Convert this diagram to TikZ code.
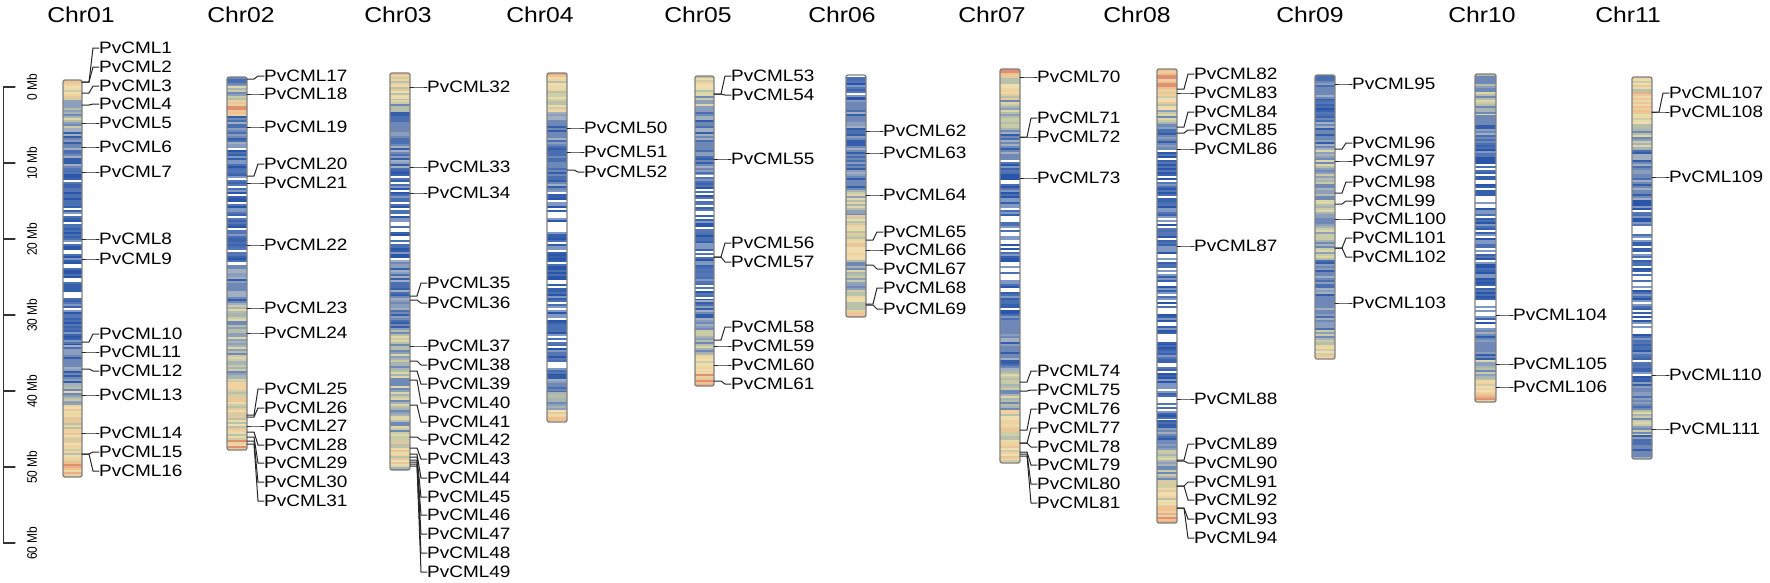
\documentclass[tikz,border=0pt]{standalone}
\usepackage{fontspec}
\setmainfont{Liberation Sans}
\newfontfamily\chrfont[FakeStretch=1.15]{Liberation Sans}
\newfontfamily\mbfont[FakeStretch=0.87]{Liberation Sans}

% Density colours: D dark blue, W blue with gaps, B blue-grey, G sage, Y yellow, R orange.
\definecolor{cD1}{HTML}{2A55A8}
\definecolor{cD2}{HTML}{4A70B4}
\definecolor{cD3}{HTML}{3B63AE}
\definecolor{cD4}{HTML}{5575B4}
\definecolor{cD5}{HTML}{7F98C4}
\definecolor{cD6}{HTML}{FFFFFF}
\definecolor{cW1}{HTML}{FFFFFF}
\definecolor{cW2}{HTML}{3560AC}
\definecolor{cW3}{HTML}{4A70B4}
\definecolor{cW4}{HTML}{FFFFFF}
\definecolor{cW5}{HTML}{7F98C4}
\definecolor{cW6}{HTML}{2A55A8}
\definecolor{cB1}{HTML}{4A6FB0}
\definecolor{cB2}{HTML}{6E88B8}
\definecolor{cB3}{HTML}{8B9DBC}
\definecolor{cB4}{HTML}{355EAA}
\definecolor{cB5}{HTML}{7088B6}
\definecolor{cB6}{HTML}{A2AFC0}
\definecolor{cG1}{HTML}{8D9FBB}
\definecolor{cG2}{HTML}{B4BEA8}
\definecolor{cG3}{HTML}{C9CAA8}
\definecolor{cG4}{HTML}{7088B6}
\definecolor{cG5}{HTML}{A8B4B4}
\definecolor{cG6}{HTML}{DCD6A8}
\definecolor{cY1}{HTML}{E9DCA8}
\definecolor{cY2}{HTML}{CFCCA8}
\definecolor{cY3}{HTML}{EFD2A0}
\definecolor{cY4}{HTML}{B8C1AA}
\definecolor{cY5}{HTML}{F0DDB0}
\definecolor{cY6}{HTML}{E6C89A}
\definecolor{cR1}{HTML}{F0C08E}
\definecolor{cR2}{HTML}{E8B088}
\definecolor{cR3}{HTML}{E9D2A0}
\definecolor{cR4}{HTML}{EBC79A}
\definecolor{cR5}{HTML}{DE9070}
\definecolor{cR6}{HTML}{EED8A8}

% Striped chromosome: left, right, top, bottom, zones.
\newcommand{\chrbar}[5]{%
    \begin{scope}
        \clip[rounded corners = 2pt] (#1,#3) rectangle (#2,#4);
        \foreach \ya/\yb/\pal in {#5} {
            \pgfmathtruncatemacro{\yc}{\ya+2}
            \foreach \y in {\ya,\yc,...,\yb} {
                \pgfmathrandominteger{\pick}{1}{6}
                \fill[fill = c\pal\pick] (#1,\y) rectangle (#2,\y+2.2);
            }
        }
    \end{scope}
    \draw[chrom] (#1,#3) rectangle (#2,#4);
}

% Gene label: bar right edge, number, gene y, label y.
\newcommand{\genetag}[4]{%
    \coordinate (g#2) at (#1,#3);
    \node[gene] (l#2) at (#1+17,#4) {PvCML#2};
    \draw[link] (g#2) -- ++(7,0) -- ([xshift=-6pt]l#2.west) -- (l#2.west);
}

\pgfmathsetseed{11}

\begin{document}
\begin{tikzpicture}[%
        x = 1pt,
        y = -1pt,
        line cap = round,
        title/.style = {anchor = base, font = \chrfont\fontsize{21.5}{24}\selectfont},
        gene/.style = {anchor = west, inner sep = 0pt, font = \chrfont\fontsize{16.5}{18}\selectfont},
        link/.style = {draw = black!85, line width = 1pt},
        chrom/.style = {draw = black!50, line width = 1.3pt, rounded corners = 2pt},
        axis/.style = {draw = black!80, line width = 1.2pt},
        mb/.style = {rotate = 90, inner sep = 0pt, font = \mbfont\fontsize{13.8}{15}\selectfont}
    ]

        \useasboundingbox (0,0) rectangle (1770,582);

        % Scale bar.
        \draw[axis] (3.5,87) -- (3.5,543);
        \foreach \i in {0,...,6} {
            \pgfmathtruncatemacro{\mbv}{10*\i}
            \draw[axis] (3.5,87+76*\i) -- (15,87+76*\i);
            \node[mb] (mb\i) at (32,87+76*\i) {\mbv{} Mb};
        }

        % Chromosome names.
        \node[title] (c1) at (81,22) {Chr01};
        \node[title] (c2) at (241,22) {Chr02};
        \node[title] (c3) at (398,22) {Chr03};
        \node[title] (c4) at (540,22) {Chr04};
        \node[title] (c5) at (698,22) {Chr05};
        \node[title] (c6) at (842,22) {Chr06};
        \node[title] (c7) at (992,22) {Chr07};
        \node[title] (c8) at (1137,22) {Chr08};
        \node[title] (c9) at (1310,22) {Chr09};
        \node[title] (c10) at (1482,22) {Chr10};
        \node[title] (c11) at (1628,22) {Chr11};

        % Chr01
        \chrbar{63}{82}{80}{477}{80/84/R, 84/100/Y, 100/128/G, 128/168/B, 168/200/D,
            200/300/W, 300/345/D, 345/385/B, 385/405/G, 405/462/Y, 462/477/R}
        \foreach \n/\yg/\yl in {1/82/48, 2/82/67, 3/93/86, 4/105/104, 5/123/123,
            6/147/147, 7/172/172, 8/239/239, 9/259/259, 10/342/334, 11/352/352,
            12/369/371, 13/395/395, 14/433/433, 15/454/452, 16/454/471}
            {\genetag{82}{\n}{\yg}{\yl}}

        % Chr02
        \chrbar{227}{247}{77}{450}{77/86/B, 86/100/G, 100/116/R, 116/146/B, 146/160/W,
            160/265/D, 265/305/B, 305/380/G, 380/440/Y, 440/450/R}
        \foreach \n/\yg/\yl in {17/79/76, 18/94/94, 19/127/127, 20/176/164, 21/183/183,
            22/245/245, 23/308/308, 24/333/333, 25/415/389, 26/417/408, 27/426/426,
            28/432/445, 29/437/463, 30/441/482, 31/444/501}
            {\genetag{247}{\n}{\yg}{\yl}}

        % Chr03
        \chrbar{390}{410}{73}{470}{73/77/R, 77/100/Y, 100/112/G, 112/170/B, 170/180/D,
            180/260/W, 260/330/B, 330/440/G, 440/465/Y, 465/470/G}
        \foreach \n/\yg/\yl in {32/87/87, 33/167/167, 34/193/193, 35/296/283, 36/300/303,
            37/346/346, 38/361/365, 39/371/384, 40/380/403, 41/405/422, 42/437/440,
            43/448/459, 44/454/478, 45/457/497, 46/460/515, 47/462/534, 48/464/553,
            49/466/572}
            {\genetag{410}{\n}{\yg}{\yl}}

        % Chr04
        \chrbar{547}{567}{73}{422}{73/77/R, 77/112/Y, 112/190/B, 190/340/W, 340/375/D,
            375/392/B, 392/410/G, 410/417/Y, 417/422/R}
        \foreach \n/\yg/\yl in {50/128/128, 51/152/152, 52/170/172}
            {\genetag{567}{\n}{\yg}{\yl}}

        % Chr05
        \chrbar{695}{714}{76}{386}{76/92/Y, 92/108/G, 108/175/B, 175/235/D, 235/245/W,
            245/300/D, 300/330/B, 330/355/G, 355/372/Y, 372/386/R}
        \foreach \n/\yg/\yl in {53/94/76, 54/94/95, 55/159/159, 56/257/243, 57/257/262,
            58/340/327, 59/346/346, 60/365/365, 61/381/384}
            {\genetag{714}{\n}{\yg}{\yl}}

        % Chr06
        \chrbar{846}{866}{75}{317}{75/100/D, 100/190/B, 190/215/G, 215/260/Y, 260/290/G,
            290/310/Y, 310/317/R}
        \foreach \n/\yg/\yl in {62/131/131, 63/153/153, 64/195/195, 65/240/232,
            66/250/250, 67/265/269, 68/304/288, 69/305/309}
            {\genetag{866}{\n}{\yg}{\yl}}

        % Chr07
        \chrbar{1000}{1020}{69}{463}{69/76/R, 76/100/Y, 100/130/G, 130/160/B, 160/190/D,
            190/320/W, 320/370/B, 370/410/G, 410/440/Y, 440/463/Y}
        \foreach \n/\yg/\yl in {70/77/77, 71/137/118, 72/137/137, 73/178/178,
            74/382/371, 75/391/390, 76/430/409, 77/443/428, 78/443/447, 79/452/465,
            80/454/484, 81/456/503}
            {\genetag{1020}{\n}{\yg}{\yl}}

        % Chr08
        \chrbar{1157}{1177}{69}{523}{69/92/R, 92/110/Y, 110/125/G, 125/150/B, 150/250/D,
            250/345/W, 345/420/D, 420/450/B, 450/480/G, 480/505/Y, 505/523/R}
        \foreach \n/\yg/\yl in {82/89/74, 83/93/93, 84/127/112, 85/133/130, 86/149/149,
            87/246/246, 88/399/399, 89/460/444, 90/461/463, 91/486/482, 92/486/500,
            93/508/519, 94/508/538}
            {\genetag{1177}{\n}{\yg}{\yl}}

        % Chr09
        \chrbar{1315}{1335}{75}{359}{75/100/B, 100/118/D, 118/150/B, 150/260/G,
            260/330/B, 330/345/G, 345/355/Y, 355/359/R}
        \foreach \n/\yg/\yl in {95/84/84, 96/149/143, 97/161/161, 98/193/182,
            99/204/201, 100/219/219, 101/248/238, 102/248/257, 103/303/303}
            {\genetag{1335}{\n}{\yg}{\yl}}

        % Chr10
        \chrbar{1475}{1496}{74}{402}{74/115/G, 115/145/B, 145/160/D, 160/240/W,
            240/330/D, 330/360/B, 360/380/G, 380/392/Y, 392/402/R}
        \foreach \n/\yg/\yl in {104/315/315, 105/364/364, 106/387/387}
            {\genetag{1496}{\n}{\yg}{\yl}}

        % Chr11
        \chrbar{1632}{1652}{77}{459}{77/92/Y, 92/112/R, 112/125/Y, 125/150/G, 150/200/B,
            200/230/D, 230/340/W, 340/380/D, 380/410/B, 410/435/G, 435/459/B}
        \foreach \n/\yg/\yl in {107/112/93, 108/112/112, 109/177/177, 110/375/375,
            111/429/429}
            {\genetag{1652}{\n}{\yg}{\yl}}
    \end{tikzpicture}
\end{document}
